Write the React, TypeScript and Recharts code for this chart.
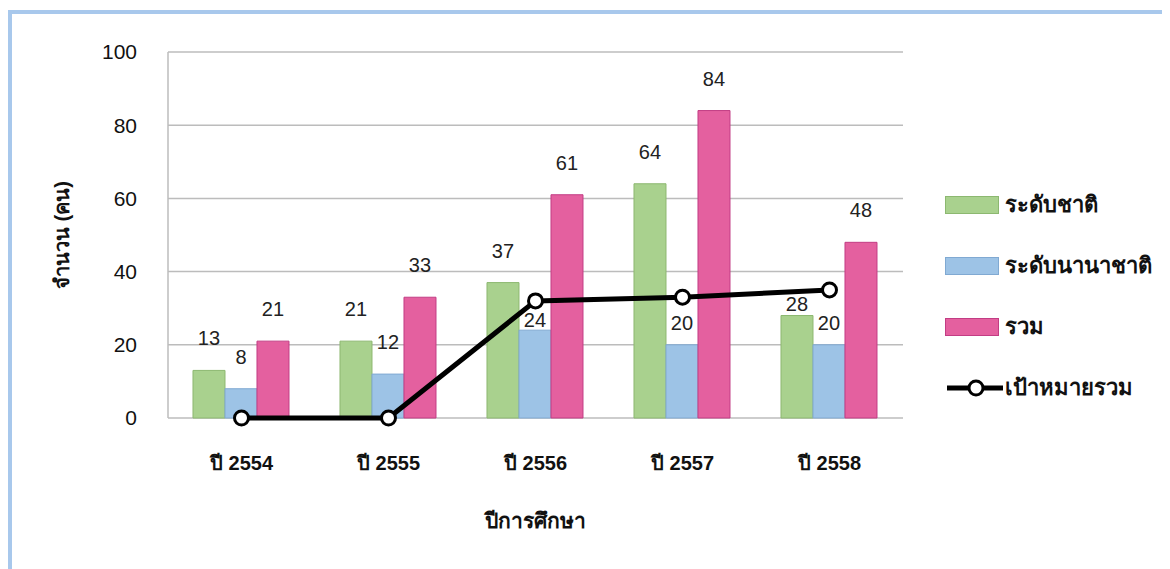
import { ComposedChart, Bar, Line, XAxis, YAxis, CartesianGrid, LabelList } from 'recharts';

const years = ['ปี 2554', 'ปี 2555', 'ปี 2556', 'ปี 2557', 'ปี 2558'];
const national = [13, 21, 37, 64, 28];
const international = [8, 12, 24, 20, 20];
const total = [21, 33, 61, 84, 48];
const target = [0, 0, 32, 33, 35];
const yTicks = [0, 20, 40, 60, 80, 100];

const data = years.map((year, i) => ({
  year,
  national: national[i],
  international: international[i],
  total: total[i],
  target: target[i],
}));

const FONT = '"Liberation Sans", "Noto Sans", sans-serif';
const GREEN = '#a9d18e';
const BLUE = '#9dc3e6';
const PINK = '#e4609f';
const GRID = '#bcbcbc';

// labels that Excel pushed down to dodge the target line
const nudge: Record<string, number[]> = {
  national: [0, 0, 0, 0, 20],
  international: [0, 0, 22, 10, 10],
  total: [0, 0, 0, 0, 0],
};

function barLabel(key: string) {
  return (props: any) => {
    const { x, y, width, value, index } = props;
    const shift = nudge[key][index] || 0;
    return (
      <text
        x={x + width / 2}
        y={y - 25 + shift}
        textAnchor="middle"
        fontSize={20}
        fontFamily={FONT}
        fill="#222"
      >
        {value}
      </text>
    );
  };
}

function YTitle(props: any) {
  const { x, y, height } = props.viewBox;
  return (
    <text
      transform={`translate(${x + 34},${y + height / 2}) rotate(-90)`}
      textAnchor="middle"
      dominantBaseline="central"
      fontSize={20}
      fontWeight="bold"
      fontFamily={FONT}
      fill="#111"
    >
      จำนวน (คน)
    </text>
  );
}

function XTitle(props: any) {
  const { x, y, width } = props.viewBox;
  return (
    <text
      x={x + width / 2}
      y={y + 102}
      textAnchor="middle"
      dominantBaseline="central"
      fontSize={21}
      fontWeight="bold"
      fontFamily={FONT}
      fill="#111"
    >
      ปีการศึกษา
    </text>
  );
}

const legendItems = [
  { name: 'ระดับชาติ', color: GREEN, border: '#8cb870' },
  { name: 'ระดับนานาชาติ', color: BLUE, border: '#80a9d2' },
  { name: 'รวม', color: PINK, border: '#c23d84' },
];

export default function App() {
  return (
    <div style={{ position: 'relative', width: 1162, height: 561, background: '#fff' }}>
      <div
        style={{
          position: 'absolute',
          left: 0,
          top: 2,
          right: 0,
          bottom: 0,
          borderTop: '4px solid #a8c8ec',
          borderLeft: '4px solid #a8c8ec',
        }}
      />
      <div style={{ position: 'absolute', left: 0, top: 0 }}>
        <ComposedChart
          width={1162}
          height={561}
          data={data}
          margin={{ top: 44, right: 267, bottom: 21, left: 20 }}
          barCategoryGap="17%"
          barGap={0}
        >
          <CartesianGrid vertical={false} stroke={GRID} strokeWidth={1.5} />
          <XAxis
            dataKey="year"
            tickLine={false}
            axisLine={false}
            height={130}
            tickMargin={32}
            tick={{ fontSize: 20, fontWeight: 'bold', fill: '#111', fontFamily: FONT }}
            label={<XTitle />}
          />
          <YAxis
            width={140}
            domain={[0, 100]}
            ticks={yTicks}
            tickLine={false}
            axisLine={{ stroke: GRID, strokeWidth: 1.5 }}
            tickMargin={25}
            tick={{ fontSize: 21, fill: '#111', fontFamily: FONT }}
            label={<YTitle />}
          />
          <Bar dataKey="national" fill={GREEN} stroke="#8cb870" isAnimationActive={false}>
            <LabelList dataKey="national" content={barLabel('national')} />
          </Bar>
          <Bar dataKey="international" fill={BLUE} stroke="#80a9d2" isAnimationActive={false}>
            <LabelList dataKey="international" content={barLabel('international')} />
          </Bar>
          <Bar dataKey="total" fill={PINK} stroke="#c23d84" isAnimationActive={false}>
            <LabelList dataKey="total" content={barLabel('total')} />
          </Bar>
          <Line
            dataKey="target"
            stroke="#000"
            strokeWidth={5}
            dot={{ r: 7, fill: '#fff', stroke: '#000', strokeWidth: 3 }}
            isAnimationActive={false}
          />
        </ComposedChart>
      </div>
      <div
        style={{
          position: 'absolute',
          left: 937,
          top: 166,
          fontFamily: FONT,
          fontSize: 22,
          fontWeight: 'bold',
          color: '#111',
        }}
      >
        {legendItems.map((it) => (
          <div key={it.name} style={{ display: 'flex', alignItems: 'center', height: 61 }}>
            <div
              style={{
                width: 52,
                height: 16,
                background: it.color,
                border: `1px solid ${it.border}`,
                marginRight: 6,
              }}
            />
            <span>{it.name}</span>
          </div>
        ))}
        <div style={{ display: 'flex', alignItems: 'center', height: 61 }}>
          <svg width={60} height={20}>
            <line x1={2} y1={10} x2={58} y2={10} stroke="#000" strokeWidth={5} />
            <circle cx={31} cy={10} r={7} fill="#fff" stroke="#000" strokeWidth={3} />
          </svg>
          <span>เป้าหมายรวม</span>
        </div>
      </div>
    </div>
  );
}
